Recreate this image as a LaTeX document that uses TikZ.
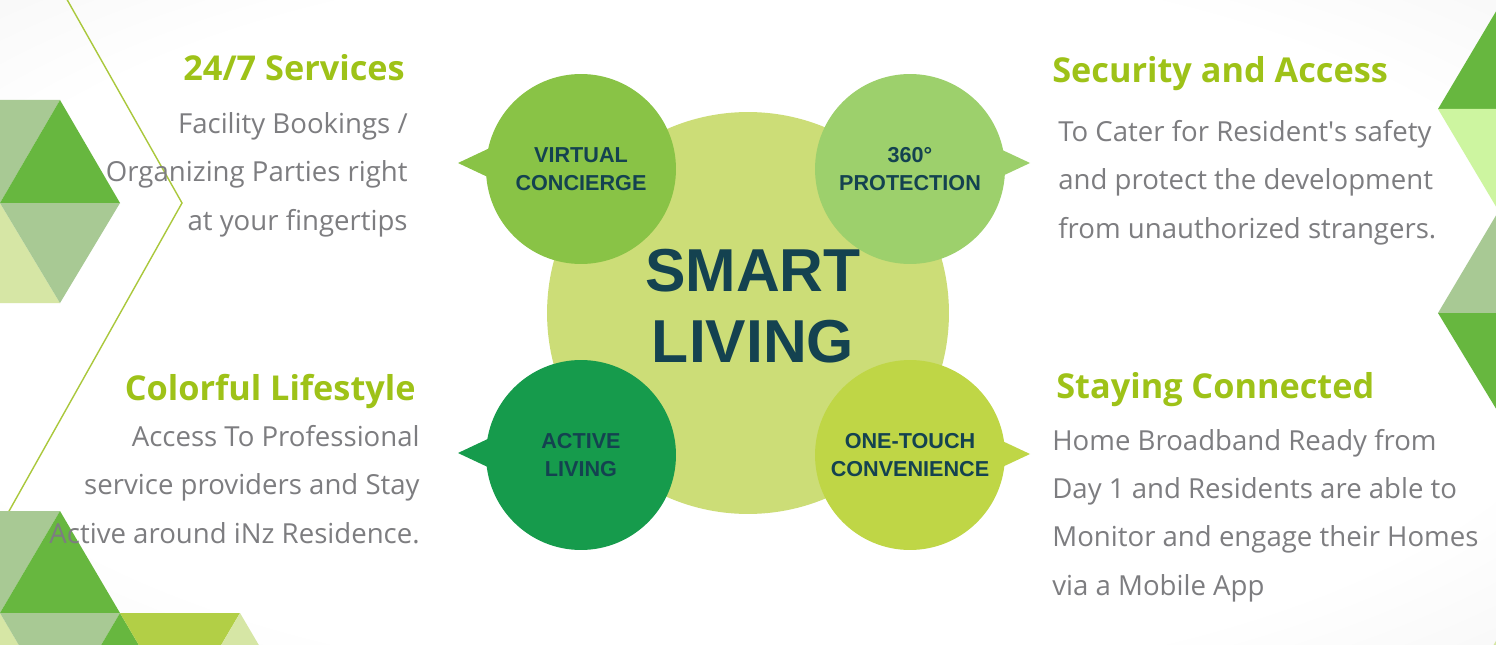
\documentclass[tikz,border=0pt]{standalone}
\usepackage{fontspec}
\setmainfont{Open Sans}
\newfontfamily\circfont{Liberation Sans}
\usepackage{xcolor}
\definecolor{bggray}{RGB}{236,236,236}
\definecolor{hubfill}{RGB}{204,221,119}
\definecolor{vcgreen}{RGB}{137,195,70}
\definecolor{prgreen}{RGB}{157,208,108}
\definecolor{algreen}{RGB}{22,155,76}
\definecolor{otgreen}{RGB}{191,214,70}
\definecolor{darkteal}{RGB}{20,66,80}
\definecolor{headgreen}{RGB}{158,194,24}
\definecolor{bodygray}{RGB}{125,125,128}
\definecolor{chevgreen}{RGB}{170,200,60}
\definecolor{tridark}{RGB}{103,183,63}
\definecolor{trigray}{RGB}{168,201,148}
\definecolor{trilight}{RGB}{214,230,165}
\definecolor{trilime}{RGB}{178,207,70}
\definecolor{trimint}{RGB}{205,245,160}
\usepackage{tikz}
\pgfdeclareradialshading{bgshade}{\pgfpoint{0bp}{0bp}}{color(0bp)=(white); color(28bp)=(white); color(50bp)=(bggray)}

\begin{document}
\begin{tikzpicture}[x=0.02cm,y=-0.02cm,
hub/.style={circle,fill=hubfill,minimum size=8.04cm,inner sep=0pt},
bubble/.style={circle,minimum size=3.8cm,inner sep=0pt,align=center,text=darkteal,font=\circfont\bfseries\fontsize{12.3}{15.9}\selectfont},
title/.style={align=center,text=darkteal,inner sep=0pt,font=\circfont\bfseries\fontsize{34.5}{40.8}\selectfont},
head/.style={text=headgreen,inner sep=0pt,font=\bfseries\fontsize{19.5}{23}\selectfont},
body/.style={text=bodygray,inner sep=0pt,font=\fontsize{15.7}{27.5}\selectfont},
chevron/.style={draw=chevgreen,line width=0.8pt}]
\useasboundingbox (0,0) rectangle (1496,645);
\clip (0,0) rectangle (1496,645);
\shade[shading=bgshade] (0,0) rectangle (1496,645);
\draw[chevron] (56,-20) -- (182,203) -- (-10,545);
\fill[trigray] (0,100) -- (60,100) -- (0,203) -- cycle;
\fill[tridark] (60,100) -- (120,203) -- (0,203) -- cycle;
\fill[trilight] (0,203) -- (60,303) -- (0,303) -- cycle;
\fill[trigray] (0,203) -- (120,203) -- (60,303) -- cycle;
\fill[trigray] (0,511) -- (60,511) -- (0,613) -- cycle;
\fill[tridark] (60,511) -- (120,613) -- (0,613) -- cycle;
\fill[trilight] (0,613) -- (60,715) -- (0,715) -- cycle;
\fill[trigray] (0,613) -- (120,613) -- (60,715) -- cycle;
\fill[tridark] (120,613) -- (180,715) -- (60,715) -- cycle;
\fill[trilime] (120,613) -- (240,613) -- (180,715) -- cycle;
\fill[trilight] (240,613) -- (300,715) -- (180,715) -- cycle;
\fill[tridark] (1498,8) -- (1558,109) -- (1438,109) -- cycle;
\fill[trimint] (1438,109) -- (1558,109) -- (1498,210) -- cycle;
\fill[trigray] (1498,212) -- (1558,313) -- (1438,313) -- cycle;
\fill[tridark] (1438,313) -- (1558,313) -- (1498,412) -- cycle;
\fill[trilight] (1500,634) -- (1560,736) -- (1440,736) -- cycle;
\node[hub] (hub) at (748,313) {};
\node[title] (smart) at (753,306) {SMART\\LIVING};
\node[bubble,fill=vcgreen] (vc) at (581,169) {VIRTUAL\\CONCIERGE};
\node[bubble,fill=prgreen] (pr) at (910,169) {360°\\PROTECTION};
\node[bubble,fill=algreen] (al) at (581,455) {ACTIVE\\LIVING};
\node[bubble,fill=otgreen] (ot) at (910,455) {ONE-TOUCH\\CONVENIENCE};
\fill[vcgreen] (vc.center) ++(-123,-6) -- ++(34,-16) -- ++(0,32) -- cycle;
\fill[prgreen] (pr.center) ++(120,-6) -- ++(-32,-15) -- ++(0,30) -- cycle;
\fill[algreen] (al.center) ++(-123,-2) -- ++(34,-16) -- ++(0,32) -- cycle;
\fill[otgreen] (ot.center) ++(120,-1) -- ++(-32,-15) -- ++(0,30) -- cycle;
\node[head,anchor=base east] (svchead) at (405,81) {24/7 Services};
\node[body,anchor=base east,align=right] (svcbody) at (408,230) {Facility Bookings /\\Organizing Parties right\\at your fingertips};
\node[head,anchor=base west] (sechead) at (1052,83) {Security and Access};
\node[body,anchor=base west,align=left] (secbody) at (1058,238) {To Cater for Resident\textquotesingle s safety\\and protect the development\\from unauthorized strangers.};
\node[head,anchor=base east] (lifehead) at (416,400) {Colorful Lifestyle};
\node[body,anchor=base east,align=right] (lifebody) at (420,543) {Access To Professional\\service providers and Stay\\Active around iNz Residence.};
\node[head,anchor=base west] (conhead) at (1056,398) {Staying Connected};
\node[body,anchor=base west,align=left] (conbody) at (1052,595) {Home Broadband Ready from\\Day 1 and Residents are able to\\Monitor and engage their Homes\\via a Mobile App};
\end{tikzpicture}
\end{document}
